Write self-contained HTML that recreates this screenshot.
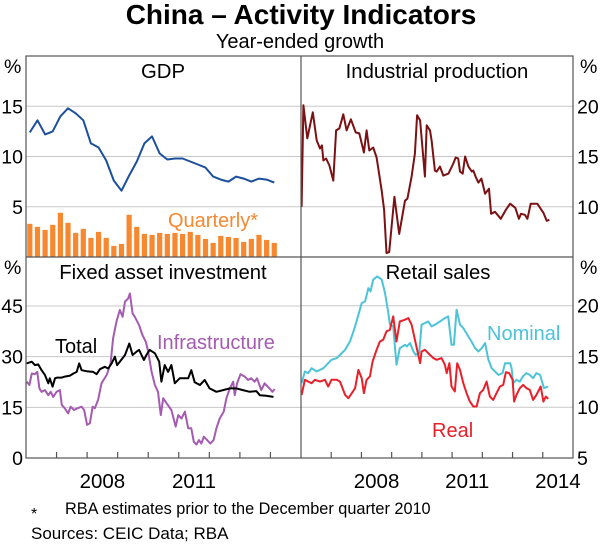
<!DOCTYPE html>
<html><head><meta charset="utf-8"><style>
body{margin:0;width:600px;height:544px;background:#fff;overflow:hidden;font-family:"Liberation Sans",sans-serif}
svg text{font-family:"Liberation Sans",sans-serif}
</style></head><body>
<svg id="c" width="600" height="544" viewBox="0 0 600 544">
<text x="301" y="24" text-anchor="middle" font-size="28" font-weight="bold">China – Activity Indicators</text>
<text x="300" y="48" text-anchor="middle" font-size="20">Year-ended growth</text>
<text x="31" y="519" font-size="16">*</text>
<text x="65" y="514" font-size="16.3">RBA estimates prior to the December quarter 2010</text>
<text x="31" y="539" font-size="17">Sources:  CEIC Data; RBA</text>
</svg>
<script>
// GDP annual (quarterly obs from 2006Q1)
const gdpYear=[12.4,13.6,12.2,12.5,14.0,14.8,14.3,13.6,11.3,10.9,9.6,7.6,6.6,8.1,9.5,11.3,12.0,10.3,9.7,9.8,9.8,9.5,9.2,8.9,8.0,7.7,7.5,8.0,7.8,7.5,7.8,7.7,7.4];
const gdpQuarter=[3.3,3.0,2.7,3.2,4.4,3.4,2.4,2.8,1.9,2.5,1.9,1.1,1.3,4.2,3.0,2.3,2.2,2.4,2.3,2.4,2.3,2.5,2.2,1.8,1.4,2.1,2.0,1.9,1.5,1.8,2.2,1.7,1.4];
// Industrial production
const ipT=[.02,.08,.21,.39,.52,.63,.69,.74,.83,.94,1.07,1.16,1.27,1.40,1.51,1.65,1.81,1.93,2.08,2.17,2.26,2.39,2.50,2.67,2.75,2.83,2.92,3.09,3.25,3.44,3.52,3.66,3.77,3.84,3.94,4.10,4.16,4.27,4.32,4.43,4.49,4.60,4.71,4.88,5.04,5.12,5.20,5.26,5.35,5.43,5.54,5.65,5.70,5.79,5.87,5.97,6.09,6.22,6.29,6.42,6.61,6.78,6.92,7.09,7.21,7.28,7.41,7.49,7.60,7.69,7.82,8.02,8.13,8.22];
const ipV=[10.0,20.1,16.8,19.4,16.6,15.8,16.1,14.6,14.8,14.1,12.6,17.6,17.8,19.2,17.6,18.7,17.4,17.3,15.4,17.6,15.6,15.9,14.9,11.6,9.7,5.4,5.5,11.0,7.3,10.6,10.8,13.0,15.3,19.1,18.6,13.0,18.1,17.6,16.6,13.6,13.5,14.0,13.1,13.3,14.3,14.9,14.8,13.5,13.3,15.0,14.0,13.5,13.6,12.9,12.4,12.8,11.3,11.8,9.3,9.5,8.8,9.7,10.3,9.9,8.8,9.3,9.2,8.8,10.3,10.3,10.3,9.4,8.6,8.7];
// FAI total
const totT=[.02,.19,.29,.40,.51,.62,.73,.78,.87,.95,1.02,1.17,1.27,1.44,1.55,1.66,1.74,1.82,1.98,2.20,2.31,2.42,2.58,2.69,2.80,2.91,2.98,3.07,3.24,3.38,3.49,3.62,3.70,3.78,3.86,3.94,4.05,4.22,4.36,4.43,4.54,4.65,4.76,4.87,5.03,5.20,5.31,5.41,5.52,5.69,5.85,6.01,6.23,6.45,6.67,6.88,7.10,7.32,7.54,7.65,7.86,8.10];
const totV=[28.0,28.5,27.5,27.7,26.0,24.6,22.1,23.6,21.1,23.6,23.8,23.8,24.1,24.4,25.0,25.5,28.0,26.0,25.7,25.5,24.8,26.3,27.0,26.5,28.0,30.0,27.5,28.5,30.5,33.9,30.5,31.5,32.0,30.5,29.0,30.5,32.0,31.0,28.5,22.6,27.5,25.5,27.5,22.1,23.6,23.6,23.6,26.0,22.4,21.6,23.1,20.6,19.6,20.1,20.6,20.6,20.1,19.6,19.8,18.6,18.4,18.1];
// FAI infrastructure
const infT=[.02,.11,.19,.29,.37,.44,.51,.62,.73,.81,.89,1.00,1.11,1.17,1.27,1.38,1.46,1.57,1.68,1.82,1.90,2.00,2.09,2.18,2.25,2.36,2.47,2.64,2.77,2.85,2.96,3.07,3.16,3.24,3.34,3.40,3.49,3.56,3.70,3.81,3.92,4.00,4.11,4.22,4.32,4.41,4.49,4.60,4.76,4.90,4.98,5.09,5.20,5.31,5.41,5.49,5.58,5.66,5.74,5.82,5.93,6.03,6.14,6.23,6.34,6.47,6.56,6.67,6.78,6.83,6.91,7.02,7.16,7.27,7.37,7.48,7.56,7.70,7.81,7.97,8.06,8.14];
const infV=[22.6,21.6,25.0,24.8,25.5,20.6,19.6,20.1,18.6,19.6,18.1,19.6,20.1,15.7,14.7,13.2,15.2,14.2,14.7,15.2,14.2,9.8,10.3,15.2,14.7,17.2,22.1,24.6,28.0,35.4,40.3,43.8,41.8,46.3,47.2,48.7,42.8,41.8,39.3,36.4,34.4,31.5,25.5,21.6,19.6,12.7,17.7,16.2,14.2,9.3,12.7,11.7,13.7,8.8,8.8,4.8,4.0,5.3,4.3,6.3,5.3,4.3,5.3,8.8,11.7,13.7,17.7,20.6,22.6,18.6,22.1,24.8,24.1,23.1,23.6,22.6,23.6,20.1,22.1,20.6,19.6,20.4];
// Retail nominal
const nomT=[.02,.13,.24,.35,.52,.74,.90,1.01,1.18,1.29,1.46,1.62,1.79,1.90,2.01,2.12,2.23,2.30,2.39,2.52,2.67,2.78,2.89,2.94,3.05,3.16,3.27,3.44,3.50,3.61,3.72,3.80,3.91,3.99,4.10,4.21,4.32,4.43,4.60,4.76,4.87,4.98,5.06,5.15,5.26,5.37,5.54,5.64,5.76,5.87,5.98,6.09,6.20,6.31,6.42,6.53,6.67,6.75,6.92,6.97,7.02,7.13,7.24,7.34,7.46,7.57,7.68,7.79,7.91,8.04,8.18];
const nomV=[12.37,13.52,13.36,13.85,13.52,13.85,14.34,14.67,14.84,15.16,15.66,16.48,17.96,19.11,20.26,20.43,21.74,21.41,22.57,22.89,22.57,21.25,19.28,18.13,17.96,14.18,15.82,16.15,15.99,16.32,15.49,15.16,15.33,18.13,18.29,18.45,17.96,18.13,18.45,18.78,18.95,16.15,16.15,19.61,18.13,17.80,16.97,16.48,15.82,15.49,15.82,16.32,14.67,13.85,13.52,13.19,13.36,14.34,14.34,13.85,12.37,12.70,12.53,13.03,13.36,13.19,12.86,13.36,13.19,11.88,12.04];
// Retail real
const realT=[.02,.13,.24,.35,.46,.63,.79,.90,1.01,1.18,1.29,1.46,1.57,1.68,1.79,1.90,2.01,2.08,2.17,2.28,2.37,2.50,2.61,2.72,2.83,2.94,3.05,3.16,3.27,3.44,3.55,3.66,3.83,3.94,3.99,4.10,4.27,4.38,4.49,4.65,4.76,4.82,4.91,4.98,5.09,5.17,5.26,5.37,5.48,5.59,5.70,5.81,5.92,6.03,6.14,6.25,6.36,6.47,6.58,6.69,6.78,6.89,7.00,7.05,7.13,7.24,7.35,7.46,7.57,7.68,7.79,7.93,8.02,8.10,8.18];
const realV=[11.22,12.70,12.53,12.37,12.70,12.53,12.70,12.04,12.70,12.70,12.53,11.22,10.89,11.38,11.88,13.68,12.86,11.38,12.70,13.03,14.51,15.66,16.48,16.64,17.47,17.63,18.95,16.48,18.45,18.62,18.78,18.13,15.82,14.34,15.49,15.66,15.16,14.84,14.67,14.84,14.18,13.36,14.34,12.04,11.55,14.34,13.68,12.37,11.38,10.56,10.07,10.07,11.38,11.71,12.53,11.05,10.72,11.38,12.04,12.20,13.45,13.36,12.70,10.56,11.22,11.88,12.20,11.88,11.71,10.72,11.22,12.04,10.56,11.05,10.82];
const ticksTL=[5,10,15],ticksTR=[10,15,20],ticksBL=[0,15,30,45],ticksBR=[5,10,15,20];
const yearLabelsL=[2008,2011],yearLabelsR=[2008,2011,2014];

const svg=document.getElementById('c');const NS='http://www.w3.org/2000/svg';
function mk(tag,attrs,parent){const e=document.createElementNS(NS,tag);for(const k in attrs)e.setAttribute(k,attrs[k]);(parent||svg).appendChild(e);return e;}
const X0=26,XM=301,X1=573,Y0=56,YM=257,Y1=458;
const xL=t=>X0+(t-2006)/9*(XM-X0), xR=t=>XM+(t-2006)/9*(X1-XM);
const yTL=v=>YM-v/20*(YM-Y0), yTR=v=>YM-(v-5)/20*(YM-Y0);
const yBL=v=>Y1-v/59.5*(Y1-YM), yBR=v=>Y1-(v-5)/19.8*(Y1-YM);
function grid(ticks,fy,xa,xb,name){ticks.forEach(v=>{const l=mk('line',{x1:xa,x2:xb,y1:fy(v),y2:fy(v),stroke:'#c8c8c8','stroke-width':1});

});}
grid([5,10,15],yTL,X0,XM,'gdp');grid(ticksTR,yTR,XM,X1,'ip');grid([15,30,45],yBL,X0,XM,'fai');grid([10,15,20],yBR,XM,X1,'retail');
function lbl(txt,x,y,anchor,name,fill,size){const t=mk('text',{x:x,y:y,'text-anchor':anchor,'font-size':size||19.5,fill:fill||'#000'});t.textContent=txt;

return t;}
ticksTL.forEach(v=>lbl(v,23,yTL(v)+7,'end','y-tick-gdp'));
ticksTR.forEach(v=>lbl(v,577,yTR(v)+7,'start','y-tick-ip'));
ticksBL.forEach(v=>lbl(v,23,yBL(v)+7,'end','y-tick-fai'));
ticksBR.forEach(v=>lbl(v,577,yBR(v)+7,'start','y-tick-retail'));
lbl('%',4,73,'start','y-unit-tl');lbl('%',580,73,'start','y-unit-tr');lbl('%',4,274,'start','y-unit-bl');lbl('%',580,274,'start','y-unit-br');
// bars
gdpQuarter.forEach((v,i)=>{const t=2006.125+i*0.25;const r=mk('rect',{x:xL(t)-2.6,y:yTL(v),width:5.2,height:yTL(0)-yTL(v),fill:'#f7882f'});

});
function line(ts,vs,fx,fy,col,name){const d=ts.map((t,i)=>(i?'L':'M')+fx(2006+t).toFixed(1)+','+fy(vs[i]).toFixed(1)).join('');const p=mk('path',{d:d,fill:'none',stroke:col,'stroke-width':2,'stroke-linejoin':'round'});

}
line(gdpYear.map((v,i)=>0.125+i*0.25),gdpYear,xL,yTL,'#1c4f9c','gdp-line');
line(ipT,ipV,xR,yTR,'#7b1113','ip-line');
line(infT,infV,xL,yBL,'#a45bb1','infrastructure-line');
line(totT,totV,xL,yBL,'#000','total-line');
line(nomT,nomV,xR,yBR,'#4dc3d8','nominal-line');
line(realT,realV,xR,yBR,'#e8202a','real-line');
// frame
const f=mk('g',{stroke:'#555','stroke-width':1.2,fill:'none'});
mk('rect',{x:X0,y:Y0,width:X1-X0,height:Y1-Y0},f);mk('line',{x1:XM,x2:XM,y1:Y0,y2:Y1},f);mk('line',{x1:X0,x2:X1,y1:YM,y2:YM},f);


for(let y=2007;y<=2014;y++){const a=mk('line',{x1:xL(y),x2:xL(y),y1:Y1,y2:Y1-6,stroke:'#555','stroke-width':1.2});


const b=mk('line',{x1:xR(y),x2:xR(y),y1:Y1,y2:Y1-6,stroke:'#555','stroke-width':1.2});

}
yearLabelsL.forEach(y=>lbl(y,xL(y+0.5),488,'middle','x-tick-label','#000',20.5));
yearLabelsR.forEach(y=>lbl(y,xR(y+0.5),488,'middle','x-tick-label','#000',20.5));
lbl('GDP',163,78,'middle','panel-title-gdp','#000',20.3);
lbl('Industrial production',437,78,'middle','panel-title-ip','#000',20.3);
lbl('Fixed asset investment',163,279,'middle','panel-title-fai','#000',20.3);
lbl('Retail sales',438,279,'middle','panel-title-retail','#000',20.3);
lbl('Quarterly*',168,227,'start','legend-quarterly','#f7882f',20);
lbl('Total',55,353,'start','legend-total','#000',20);
lbl('Infrastructure',157,349,'start','legend-infrastructure','#a45bb1',20);
lbl('Nominal',487,340,'start','legend-nominal','#4dc3d8',20);
lbl('Real',432,437,'start','legend-real','#e8202a',20);
</script>
</body></html>
